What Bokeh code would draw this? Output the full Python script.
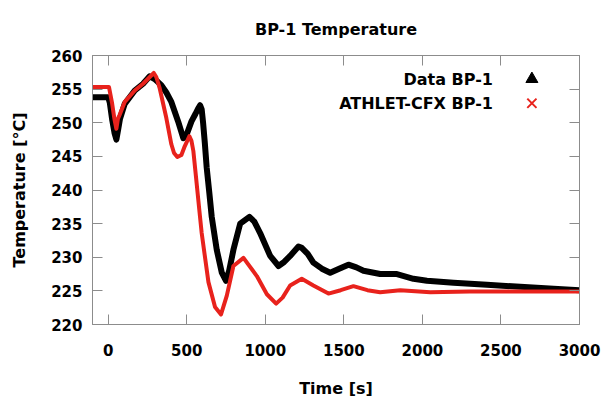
from bokeh.plotting import figure
from bokeh.models import LinearAxis, Range1d, FixedTicker
from bokeh.embed import file_html
from bokeh.resources import INLINE
from bokeh.core.properties import value

# ---- data ----
sim_t = [-100, 0, 5, 24, 40, 52, 62, 73, 105, 169, 222, 290, 306, 328, 349, 370, 402, 419, 440,
         466, 487, 517, 530, 542, 559, 580, 595, 638, 680, 718, 755, 797, 861, 946, 1010, 1069,
         1110, 1158, 1232, 1306, 1402, 1480, 1561, 1650, 1731, 1859, 2050, 2300, 2600, 3000]
sim_T = [255.3, 255.3, 255.3, 253.0, 250.5, 249.1, 250.6, 251.2, 253.1, 254.8, 255.8, 257.4, 256.8,
         255.1, 252.9, 250.7, 246.8, 245.5, 244.9, 245.2, 246.5, 248.0, 247.3, 245.8, 241.9, 237.0,
         233.6, 226.3, 222.6, 221.5, 224.3, 228.7, 229.9, 227.2, 224.5, 223.1, 224.0, 225.8, 226.8,
         225.8, 224.6, 225.1, 225.7, 225.1, 224.8, 225.1, 224.8, 224.9, 224.9, 224.9]

exp_t = [-100, -60, -20, 0, 10, 25, 40, 52, 62, 75, 105, 169, 222, 264, 296, 338, 370, 402, 445,
         478, 500, 530, 555, 570, 585, 595, 604, 615, 627, 644, 659, 691, 723, 750, 770, 797, 840,
         899, 930, 967, 1031, 1084, 1120, 1158, 1211, 1232, 1270, 1306, 1360, 1413, 1470, 1529,
         1580, 1625, 1731, 1838, 1943, 2029, 2198, 2411, 2623, 2835, 3000]
exp_T = [253.8, 253.8, 253.8, 253.8, 253.0, 250.5, 248.5, 247.5, 248.8, 250.6, 252.8, 254.8, 255.8,
         256.9, 256.5, 255.6, 254.5, 253.1, 250.2, 247.7, 248.3, 250.2, 251.3, 252.0, 252.6, 252.0,
         250.0, 247.0, 243.3, 239.5, 236.0, 231.1, 227.7, 226.5, 228.0, 231.1, 235.0, 236.0, 235.3,
         233.6, 230.2, 228.7, 229.3, 230.2, 231.6, 231.4, 230.5, 229.2, 228.3, 227.7, 228.3, 228.9,
         228.5, 228.0, 227.5, 227.5, 226.8, 226.5, 226.2, 225.9, 225.6, 225.3, 225.1]

x_ticks = [0, 500, 1000, 1500, 2000, 2500, 3000]
y_ticks = [220, 225, 230, 235, 240, 245, 250, 255, 260]

legend_labels = ["Data BP-1", "ATHLET-CFX BP-1"]
legend_text_x = [2449, 2449]
legend_y = [256.5, 252.9]
legend_marker_x = [2697]

FONT = "DejaVu Sans"
GRAY = "#8c8c8c"
RED = "#e8221c"

p = figure(width=604, height=400, x_range=Range1d(-100, 3000), y_range=Range1d(220, 260),
           output_backend="svg", toolbar_location=None, title="BP-1 Temperature",
           x_axis_label="Time [s]", y_axis_label="Temperature [°C]",
           min_border_left=92, min_border_right=25, min_border_top=53, min_border_bottom=74)
p.grid.visible = False
p.outline_line_color = GRAY
p.background_fill_color = "white"
p.border_fill_color = "white"

p.title.text_font = FONT
p.title.text_font_size = "16px"
p.title.text_font_style = "bold"
p.title.text_color = "black"
p.title.align = "center"
p.title.standoff = 34

def style_axis(ax, labels=True):
    ax.axis_line_color = GRAY
    ax.major_tick_line_color = GRAY
    ax.major_tick_in = 10
    ax.major_tick_out = 0
    ax.minor_tick_line_color = None
    if labels:
        ax.major_label_text_font = FONT
        ax.major_label_text_font_size = "15px"
        ax.major_label_text_font_style = "bold"
        ax.major_label_text_color = "black"
        ax.axis_label_text_font = FONT
        ax.axis_label_text_font_size = "16px"
        ax.axis_label_text_font_style = "bold"
        ax.axis_label_text_color = "black"
    else:
        ax.major_label_text_color = None
        ax.major_label_text_font_size = "1px"
        ax.major_label_standoff = 0

p.xaxis.ticker = FixedTicker(ticks=x_ticks)
p.yaxis.ticker = FixedTicker(ticks=y_ticks)
for ax in p.xaxis:
    style_axis(ax)
    ax.major_label_standoff = 19
    ax.axis_label_standoff = 20
for ax in p.yaxis:
    style_axis(ax)
    ax.major_label_standoff = 10
    ax.axis_label_standoff = 19

top = LinearAxis(ticker=FixedTicker(ticks=x_ticks))
style_axis(top, labels=False)
p.add_layout(top, "above")
right = LinearAxis(ticker=FixedTicker(ticks=y_ticks))
style_axis(right, labels=False)
p.add_layout(right, "right")

p.line(exp_t, exp_T, line_color="black", line_width=6, line_join="round")
p.line(sim_t, sim_T, line_color=RED, line_width=4, line_join="round")

# legend (gnuplot style: label then marker)
p.text(legend_text_x, legend_y, text=legend_labels, text_align="right", text_baseline="middle",
       text_font=value(FONT), text_font_size="16px", text_font_style="bold", text_color="black")
p.scatter(legend_marker_x, legend_y[:1], marker="triangle", size=12, fill_color="black",
          line_color="black")
p.scatter(legend_marker_x, legend_y[1:], marker="x", size=13, line_color=RED, line_width=2)

open("out.html", "w").write(file_html(p, INLINE))
